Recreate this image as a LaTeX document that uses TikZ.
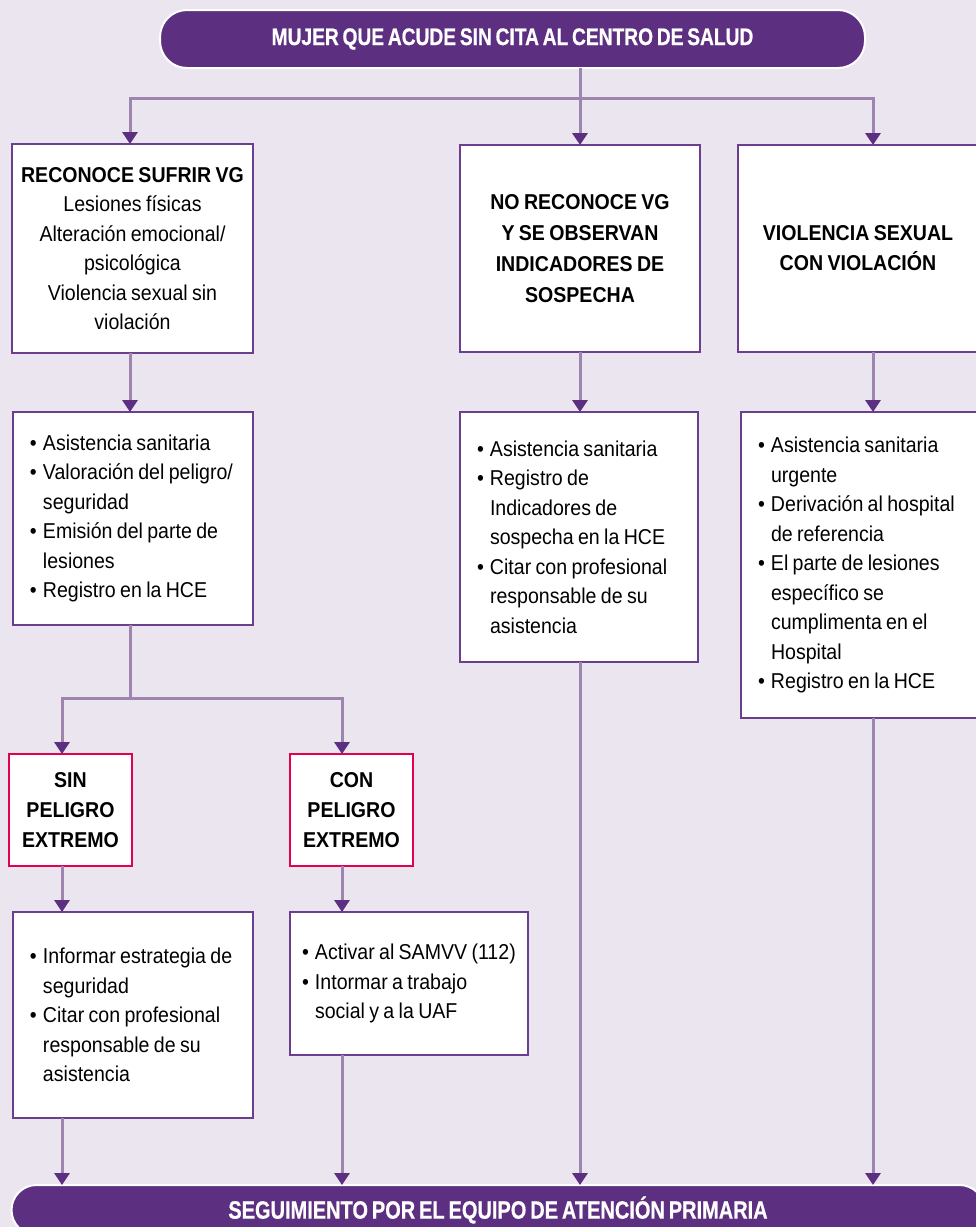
\documentclass[tikz,border=0pt]{standalone}
\usepackage{fontspec}
\setmainfont{Liberation Sans}[FakeStretch=0.91, WordSpace=0.8]
\newfontfamily\titular{Liberation Sans}[FakeStretch=0.8, WordSpace=0.7, FakeBold=0.6]
\usetikzlibrary{arrows.meta}
\definecolor{morado}{HTML}{5C2F80}
\definecolor{lila}{HTML}{9D85AF}
\definecolor{fondo}{HTML}{EAE5EE}
\definecolor{borde}{HTML}{6B3E8E}
\definecolor{rojo}{HTML}{E2004F}
\newcommand{\pto}{\makebox[13pt][l]{\textbullet}}
\newcommand{\sgue}{\hspace*{13pt}}

\begin{document}
\begin{tikzpicture}[x=1pt, y=-1pt, inner sep=0pt, outer sep=0pt,
    every node/.style={font=\fontsize{21.5}{29.5}\selectfont},
    caja/.style={draw=borde, line width=1.4pt, fill=white, anchor=north west, align=center},
    lista/.style={caja, align=flush left, inner xsep=17pt},
    alerta/.style={caja, draw=rojo, line width=2.5pt, font=\fontsize{21.5}{30}\selectfont\bfseries},
    pildora/.style={fill=morado, draw=white, line width=2pt, text=white,
        font=\titular\bfseries\fontsize{24}{28}\selectfont},
    linea/.style={draw=lila, line width=3pt},
    flecha/.style={linea, -{Triangle[width=15pt,length=12pt,color=morado]}}]
    \useasboundingbox (0,0) rectangle (976,1227);
    \clip (0,0) rectangle (976,1227);
    \fill[fondo] (0,0) rectangle (976,1227);

    % entrada
    \node[pildora, rounded corners=27pt, minimum width=705pt, minimum height=58pt] (inicio)
    at (512.5,39) {MUJER QUE ACUDE SIN CITA AL CENTRO DE SALUD};

    \coordinate (ramaA) at (130,98);
    \coordinate (ramaB) at (580,98);
    \coordinate (ramaC) at (873,98);

    % primera fila
    \node[caja, minimum width=241pt, minimum height=209pt] (reconoce) at (12,144)
    {\textbf{RECONOCE SUFRIR VG}\\Lesiones físicas\\Alteración emocional/\\psicológica\\
    Violencia sexual sin\\violación};

    \node[caja, font=\fontsize{21.5}{31}\selectfont\bfseries, minimum width=240pt, minimum height=207pt]
    (noreconoce) at (460,145)
    {NO RECONOCE VG\\Y SE OBSERVAN\\INDICADORES DE\\SOSPECHA};

    \node[caja, font=\fontsize{21.5}{30}\selectfont\bfseries, minimum width=240pt, minimum height=207pt]
    (violacion) at (738,145)
    {VIOLENCIA SEXUAL\\CON VIOLACIÓN};

    % segunda fila
    \node[lista, text width=206pt, minimum height=213pt] (reconoceb) at (13,412)
    {\pto Asistencia sanitaria\\ \pto Valoración del peligro/\\ \sgue seguridad\\
    \pto Emisión del parte de\\ \sgue lesiones\\ \pto Registro en la HCE};

    \node[lista, text width=204pt, minimum height=250pt] (noreconoceb) at (460,412)
    {\pto Asistencia sanitaria\\ \pto Registro de\\ \sgue Indicadores de\\
    \sgue sospecha en la HCE\\ \pto Citar con profesional\\ \sgue responsable de su\\
    \sgue asistencia};

    \node[lista, text width=206pt, minimum height=306pt] (violacionb) at (741,412)
    {\pto Asistencia sanitaria\\ \sgue urgente\\ \pto Derivación al hospital\\
    \sgue de referencia\\ \pto El parte de lesiones\\ \sgue específico se\\
    \sgue cumplimenta en el\\ \sgue Hospital\\ \pto Registro en la HCE};

    % valoracion del peligro
    \coordinate (bif) at (130,698);
    \coordinate (bifD) at (62,698);
    \coordinate (bifE) at (342,698);

    \node[alerta, minimum width=123pt, minimum height=112pt] (sin) at (9,754)
    {SIN\\PELIGRO\\EXTREMO};
    \node[alerta, minimum width=123pt, minimum height=112pt] (con) at (290,754)
    {CON\\PELIGRO\\EXTREMO};

    \node[lista, text width=206pt, minimum height=206pt] (sinb) at (13,912)
    {\pto Informar estrategia de\\ \sgue seguridad\\ \pto Citar con profesional\\
    \sgue responsable de su\\ \sgue asistencia};
    \node[lista, inner xsep=12pt, text width=214pt, minimum height=143pt] (conb) at (290,912)
    {\pto Activar al SAMVV (112)\\ \pto Intormar a trabajo\\ \sgue social y a la UAF};

    % salida
    \node[pildora, font=\titular\bfseries\fontsize{25}{28}\selectfont, rounded corners=25pt,
    minimum width=973pt, minimum height=50pt] (fin)
    at (498,1210) {SEGUIMIENTO POR EL EQUIPO DE ATENCIÓN PRIMARIA};

    % conectores
    \draw[linea] (ramaB |- inicio.south) -- (ramaB);
    \draw[flecha] (ramaB) -| (ramaA |- reconoce.north);
    \draw[flecha] (ramaB) -- (ramaB |- noreconoce.north);
    \draw[flecha] (ramaB) -| (ramaC |- violacion.north);

    \draw[flecha] (ramaA |- reconoce.south) -- (ramaA |- reconoceb.north);
    \draw[flecha] (ramaB |- noreconoce.south) -- (ramaB |- noreconoceb.north);
    \draw[flecha] (ramaC |- violacion.south) -- (ramaC |- violacionb.north);

    \draw[linea] (ramaA |- reconoceb.south) -- (bif);
    \draw[flecha] (bif) -| (bifD |- sin.north);
    \draw[flecha] (bif) -| (bifE |- con.north);
    \draw[flecha] (bifD |- sin.south) -- (bifD |- sinb.north);
    \draw[flecha] (bifE |- con.south) -- (bifE |- conb.north);

    \draw[flecha] (bifD |- sinb.south) -- (bifD |- fin.north);
    \draw[flecha] (bifE |- conb.south) -- (bifE |- fin.north);
    \draw[flecha] (ramaB |- noreconoceb.south) -- (ramaB |- fin.north);
    \draw[flecha] (ramaC |- violacionb.south) -- (ramaC |- fin.north);
\end{tikzpicture}
\end{document}
